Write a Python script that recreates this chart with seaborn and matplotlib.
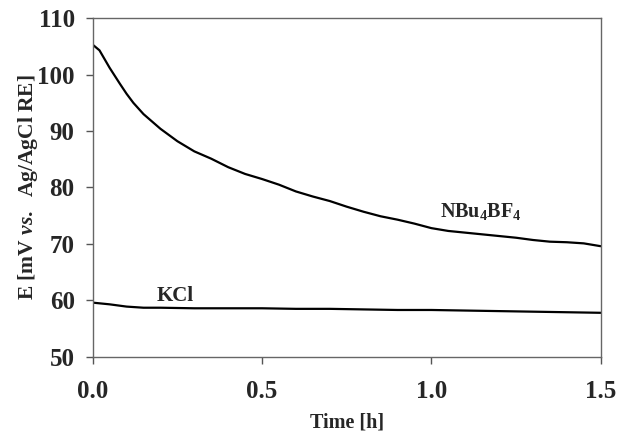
import matplotlib
matplotlib.use("Agg")
import matplotlib.pyplot as plt
import pandas as pd
import seaborn as sns

# values
time_nbu = [0.0, 0.02, 0.05, 0.08, 0.1, 0.12, 0.15, 0.2, 0.25, 0.3, 0.35, 0.4, 0.45, 0.5,
            0.55, 0.6, 0.65, 0.7, 0.75, 0.8, 0.85, 0.9, 0.95, 1.0, 1.05, 1.1,
            1.15, 1.2, 1.25, 1.3, 1.35, 1.4, 1.45, 1.5]
e_nbu = [105.3, 104.3, 101.2, 98.4, 96.6, 95.0, 93.0, 90.4, 88.2, 86.4, 85.1, 83.6, 82.4, 81.5,
         80.5, 79.3, 78.4, 77.6, 76.6, 75.7, 74.9, 74.3, 73.6, 72.8, 72.3, 72.0,
         71.7, 71.4, 71.1, 70.7, 70.4, 70.3, 70.1, 69.6]
time_kcl = [0.0, 0.05, 0.1, 0.15, 0.2, 0.3, 0.4, 0.5, 0.6, 0.7, 0.8, 0.9, 1.0,
            1.1, 1.2, 1.3, 1.4, 1.5]
e_kcl = [59.6, 59.3, 58.9, 58.7, 58.7, 58.6, 58.6, 58.6, 58.5, 58.5, 58.4, 58.3,
         58.3, 58.2, 58.1, 58.0, 57.9, 57.8]

x_ticks = [0.0, 0.5, 1.0, 1.5]
y_ticks = [50, 60, 70, 80, 90, 100, 110]

sns.set_style("ticks")
plt.rcParams["font.family"] = ["Liberation Serif", "DejaVu Serif"]
plt.rcParams["font.weight"] = "bold"
plt.rcParams["mathtext.fontset"] = "custom"
plt.rcParams["mathtext.rm"] = "Liberation Serif:bold"
plt.rcParams["mathtext.it"] = "Liberation Serif:italic:bold"
plt.rcParams["mathtext.bf"] = "Liberation Serif:bold"

df_nbu = pd.DataFrame({"Time": time_nbu, "E": e_nbu})
df_kcl = pd.DataFrame({"Time": time_kcl, "E": e_kcl})

fig = plt.figure(figsize=(6.18, 4.32), dpi=100)
ax = fig.add_axes([0.150, 0.174, 0.822, 0.784])
sns.lineplot(data=df_nbu, x="Time", y="E", color="black", linewidth=1.6, ax=ax)
sns.lineplot(data=df_kcl, x="Time", y="E", color="black", linewidth=1.6, ax=ax)

ax.set_xlim(0, 1.5)
ax.set_ylim(50, 110)
ax.set_xticks(x_ticks)
ax.set_xticklabels([f"{t:.1f}" for t in x_ticks])
ax.set_yticks(y_ticks)
ax.tick_params(labelsize=18, length=5, width=1, color="#555555", pad=12)
ax.tick_params(axis="y", pad=8)
for s in ax.spines.values():
    s.set_color("#666666")
    s.set_linewidth(1)

ax.set_xlabel("Time [h]", fontsize=14.5, fontweight="bold")
ax.set_ylabel(r"E [mV $\it{vs.}$  Ag/AgCl RE]", fontsize=15.5, fontweight="bold")
ax.xaxis.set_label_coords(0.5, -0.165)
ax.yaxis.set_label_coords(-0.104, 0.5)

ax.text(1.145, 75.7, r"NBu$_4$BF$_4$", fontsize=14.5, fontweight="bold", ha="center", va="center")
ax.text(0.245, 60.8, "KCl", fontsize=15, fontweight="bold", ha="center", va="center")

fig.savefig("out.png", dpi=100)
